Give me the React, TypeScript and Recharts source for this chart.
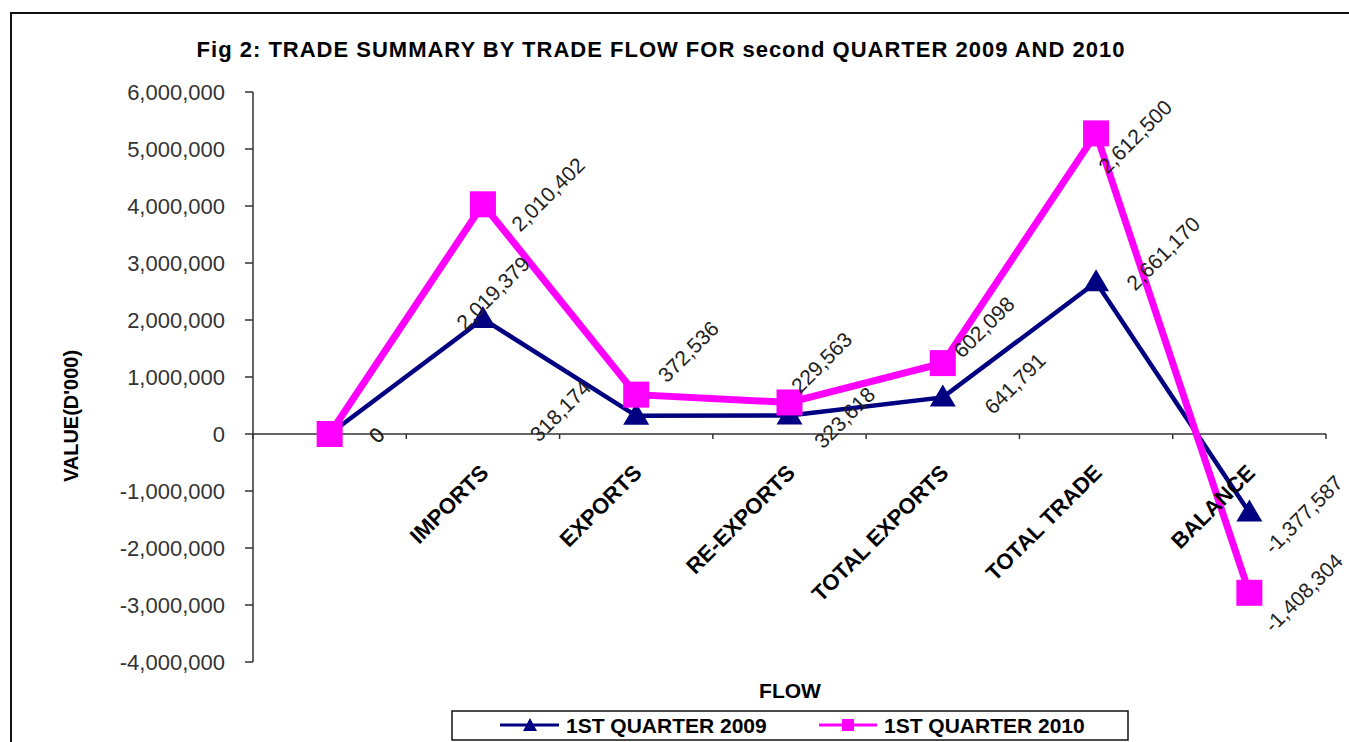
import React from "react";
import { LineChart, Line, XAxis, YAxis, ReferenceLine, LabelList } from "recharts";

const categories = ["", "IMPORTS", "EXPORTS", "RE-EXPORTS", "TOTAL EXPORTS", "TOTAL TRADE", "BALANCE"];
const quarter2009 = [0, 2019379, 318174, 323618, 641791, 2661170, -1377587];
const quarter2010 = [0, 2010402, 372536, 229563, 602098, 2612500, -1408304];
const yTicks = [-4000000, -3000000, -2000000, -1000000, 0, 1000000, 2000000, 3000000, 4000000, 5000000, 6000000];

// label centre offsets from the marker (dx, dy), as placed in the original sheet
const navyLabelShift = [[47, 1], [10, -26], [-76, -5], [55, 2], [72, -14], [67, -29], [54, 2]];
const pinkLabelShift = [[47, 1], [65, -10], [52, -43], [32, -40], [41, -36], [39, 3], [54, 0]];

const W = 1349;
const H = 742;
const PLOT_TOP = 92;
const PLOT_BOTTOM = 662;
const PLOT_LEFT = 253;
const PLOT_RIGHT = 1326;
const X_AXIS_H = 30;
const Y_MIN = -4000000;
const Y_MAX = 6000000;
const ZERO_Y = PLOT_TOP + ((PLOT_BOTTOM - PLOT_TOP) * Y_MAX) / (Y_MAX - Y_MIN);
const BAND = (PLOT_RIGHT - PLOT_LEFT) / categories.length;

const FONT = "'Liberation Sans', Arial, sans-serif";
const NAVY = "#000080";
const PINK = "#FF00FF";
const AXIS = "#333";

// Excel plotted 2010 stacked on top of 2009
const data = categories.map((c, i) => ({
  name: c,
  q2009: quarter2009[i],
  q2010: quarter2009[i] + quarter2010[i],
}));

const fmt = (v: number) => v.toLocaleString("en-US");

const CategoryTick = (props: any) => {
  const { x, payload, index } = props;
  const ax = x + 7;
  const ay = ZERO_Y + 40;
  return (
    <g>
      <line x1={x - BAND / 2} y1={ZERO_Y} x2={x - BAND / 2} y2={ZERO_Y + 5} stroke={AXIS} strokeWidth={1.5} />
      {index === categories.length - 1 && (
        <line x1={x + BAND / 2} y1={ZERO_Y} x2={x + BAND / 2} y2={ZERO_Y + 5} stroke={AXIS} strokeWidth={1.5} />
      )}
      <text
        x={ax}
        y={ay}
        transform={`rotate(-45 ${ax} ${ay})`}
        textAnchor="end"
        fontFamily={FONT}
        fontWeight="bold"
        fontSize={22}
        fill="#000"
      >
        {payload.value}
      </text>
    </g>
  );
};

const Triangle = (props: any) => {
  const { cx, cy, index } = props;
  if (cx == null || cy == null) return null;
  return <path key={index} d={`M${cx},${cy - 13} L${cx + 13},${cy + 9} L${cx - 13},${cy + 9} Z`} fill={NAVY} />;
};

const Square = (props: any) => {
  const { cx, cy, index } = props;
  if (cx == null || cy == null) return null;
  return <rect key={index} x={cx - 13} y={cy - 13} width={26} height={26} fill={PINK} />;
};

const makeLabel = (texts: number[], shifts: number[][]) => (props: any) => {
  const { x, y, index } = props;
  const [dx, dy] = shifts[index];
  const cx = x + dx;
  const cy = y + dy;
  return (
    <text
      x={cx}
      y={cy}
      transform={`rotate(-45 ${cx} ${cy})`}
      textAnchor="middle"
      dominantBaseline="central"
      fontFamily={FONT}
      fontSize={21}
      fill="#222"
    >
      {fmt(texts[index])}
    </text>
  );
};

export default function App() {
  return (
    <div style={{ position: "absolute", left: 0, top: 0, width: W, height: H, background: "#fff", overflow: "hidden" }}>
      <div
        style={{
          position: "absolute",
          left: 10,
          top: 12,
          width: W,
          height: H,
          borderLeft: "2px solid #111",
          borderTop: "2px solid #111",
        }}
      />
      <div style={{ position: "absolute", left: 0, top: 0 }}>
        <LineChart
          width={W}
          height={H}
          data={data}
          margin={{ top: PLOT_TOP, right: W - PLOT_RIGHT, bottom: H - PLOT_BOTTOM - X_AXIS_H, left: 10 }}
        >
          <XAxis
            dataKey="name"
            scale="band"
            height={X_AXIS_H}
            interval={0}
            axisLine={false}
            tickLine={false}
            tick={<CategoryTick />}
          />
          <YAxis
            type="number"
            domain={[Y_MIN, Y_MAX]}
            ticks={yTicks}
            width={PLOT_LEFT - 10}
            tickSize={8}
            tickMargin={20}
            tickFormatter={fmt}
            stroke={AXIS}
            axisLine={{ stroke: AXIS, strokeWidth: 1.5 }}
            tickLine={{ stroke: AXIS, strokeWidth: 1.5 }}
            tick={{ fill: "#333", fontSize: 22, fontFamily: FONT }}
            allowDataOverflow
          />
          <ReferenceLine y={0} stroke={AXIS} strokeWidth={1.5} />
          <Line
            dataKey="q2009"
            stroke={NAVY}
            strokeWidth={4.5}
            dot={<Triangle />}
            activeDot={false}
            isAnimationActive={false}
          >
            <LabelList dataKey="q2009" content={makeLabel(quarter2009, navyLabelShift)} />
          </Line>
          <Line
            dataKey="q2010"
            stroke={PINK}
            strokeWidth={7}
            dot={<Square />}
            activeDot={false}
            isAnimationActive={false}
          >
            <LabelList dataKey="q2010" content={makeLabel(quarter2010, pinkLabelShift)} />
          </Line>
        </LineChart>
      </div>
      <svg width={W} height={H} style={{ position: "absolute", left: 0, top: 0, pointerEvents: "none" }}>
        <text
          x={661}
          y={57}
          textAnchor="middle"
          fontFamily={FONT}
          fontWeight="bold"
          fontSize={22}
          letterSpacing={1}
          fill="#000"
        >
          Fig 2: TRADE SUMMARY BY TRADE FLOW FOR second QUARTER 2009 AND 2010
        </text>
        <text
          x={71}
          y={416}
          transform="rotate(-90 71 416)"
          textAnchor="middle"
          dominantBaseline="central"
          fontFamily={FONT}
          fontWeight="bold"
          fontSize={20}
          fill="#000"
        >
          VALUE(D'000)
        </text>
        <text x={790} y={698} textAnchor="middle" fontFamily={FONT} fontWeight="bold" fontSize={21} fill="#000">
          FLOW
        </text>
        <rect x={452} y={711} width={676} height={29} fill="#fff" stroke="#111" strokeWidth={1.5} />
        <line x1={500} y1={725} x2={559} y2={725} stroke={NAVY} strokeWidth={3} />
        <path d="M530,718 L537,731 L523,731 Z" fill={NAVY} />
        <text x={566} y={733} fontFamily={FONT} fontWeight="bold" fontSize={21} fill="#000">
          1ST QUARTER 2009
        </text>
        <line x1={819} y1={725} x2={877} y2={725} stroke={PINK} strokeWidth={3} />
        <rect x={842} y={719} width={12} height={12} fill={PINK} />
        <text x={884} y={733} fontFamily={FONT} fontWeight="bold" fontSize={21} fill="#000">
          1ST QUARTER 2010
        </text>
      </svg>
    </div>
  );
}
